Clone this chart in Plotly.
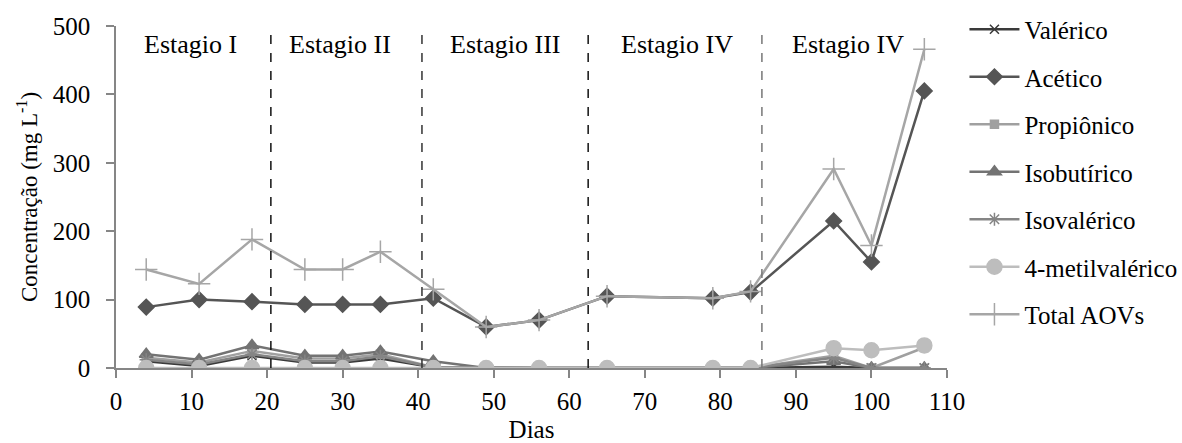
import plotly.graph_objects as go

dias = [4, 11, 18, 25, 30, 35, 42, 49, 56, 65, 79, 84, 95, 100, 107]
valerico = [10, 3, 18, 8, 8, 14, 1, 0, 0, 0, 0, 0, 2, 0, 0]
acetico = [89, 100, 97, 93, 93, 93, 102, 60, 70, 105, 102, 111, 215, 155, 405]
propionico = [15, 8, 25, 14, 14, 20, 1, 0, 0, 0, 0, 0, 18, 0, 30]
isobutirico = [20, 12, 33, 18, 18, 24, 10, 0, 0, 0, 0, 0, 10, 0, 0]
isovalerico = [12, 5, 20, 10, 10, 17, 1, 0, 0, 0, 0, 0, 15, 0, 0]
metilvalerico = [0, 0, 0, 0, 0, 0, 0, 0, 0, 0, 0, 0, 29, 26, 33]
total = [144, 123, 188, 144, 144, 170, 115, 60, 70, 105, 102, 112, 291, 179, 466]

stage_bounds = [20.5, 40.5, 62.5, 85.5]
stage_bound_colors = ["#111111", "#333333", "#111111", "#777777"]
stage_labels = ["Estagio I", "Estagio II", "Estagio III", "Estagio IV", "Estagio IV"]
stage_label_x = [9.9, 29.7, 51.5, 74.3, 96.9]

FONT = "Liberation Serif"

series = [
    ("Valérico", valerico, "#3a3a3a", "x-thin-open", 9, 2.5),
    ("Acético", acetico, "#555555", "diamond", 12, 2.5),
    ("Propiônico", propionico, "#a0a0a0", "square", 8, 2.5),
    ("Isobutírico", isobutirico, "#737373", "triangle-up", 12, 2.5),
    ("Isovalérico", isovalerico, "#858585", "asterisk-open", 11, 2.5),
    ("4-metilvalérico", metilvalerico, "#bdbdbd", "circle", 15, 2.5),
    ("Total AOVs", total, "#a6a6a6", "cross-thin-open", 16, 2.5),
]

fig = go.Figure()
for i, (name, vals, color, sym, size, lw) in enumerate(series):
    fig.add_trace(go.Scatter(
        x=dias, y=vals, name=name, mode="lines+markers",
        line=dict(color=color, width=lw),
        marker=dict(symbol=sym, size=size, color=color,
                    line=dict(color=color, width=1.5)),
        legendgroup=str(i),
    ))

shapes = []
for xb, c in zip(stage_bounds, stage_bound_colors):
    shapes.append(dict(type="line", xref="x", yref="paper", x0=xb, x1=xb,
                       y0=0, y1=1, line=dict(color=c, width=1.5, dash="dash")))

annotations = []
for lab, xl in zip(stage_labels, stage_label_x):
    annotations.append(dict(text=lab, x=xl, xref="x", y=500, yref="y",
                            yanchor="top", yshift=-2, showarrow=False,
                            font=dict(family=FONT, size=26, color="black")))

fig.update_layout(
    width=1182, height=443,
    margin=dict(l=116, r=235, t=26, b=75, autoexpand=False),
    paper_bgcolor="white", plot_bgcolor="white",
    font=dict(family=FONT, size=25, color="black"),
    shapes=shapes, annotations=annotations,
    showlegend=True,
    legend=dict(x=1.021, xanchor="left", y=1.057, yanchor="top",
                font=dict(family=FONT, size=25, color="black"),
                tracegroupgap=12, itemwidth=50, bgcolor="rgba(0,0,0,0)",
                maxheight=1.0),
    xaxis=dict(range=[0, 110], tickmode="array",
               tickvals=[0, 10, 20, 30, 40, 50, 60, 70, 80, 90, 100, 110],
               showgrid=False, zeroline=False, showline=True,
               linecolor="#868686", linewidth=1.5, ticks="outside",
               ticklen=8, tickcolor="#868686", tickwidth=1.5,
               ticklabelstandoff=2, automargin=False,
               title=dict(text="Dias", standoff=10,
                          font=dict(family=FONT, size=25)),
               tickfont=dict(family=FONT, size=25)),
    yaxis=dict(range=[0, 500], tickmode="array",
               tickvals=[0, 100, 200, 300, 400, 500],
               showgrid=False, zeroline=False, showline=True,
               linecolor="#868686", linewidth=1.5, ticks="outside",
               ticklen=8, tickcolor="#868686", tickwidth=1.5,
               ticklabelstandoff=11, automargin=False,
               title=dict(text="Concentração (mg L<sup>-1</sup>)", standoff=9,
                          font=dict(family=FONT, size=23)),
               tickfont=dict(family=FONT, size=25)),
)

fig.write_html("out.html", config={"displayModeBar": False},
               post_script="document.body.style.margin='0';")
